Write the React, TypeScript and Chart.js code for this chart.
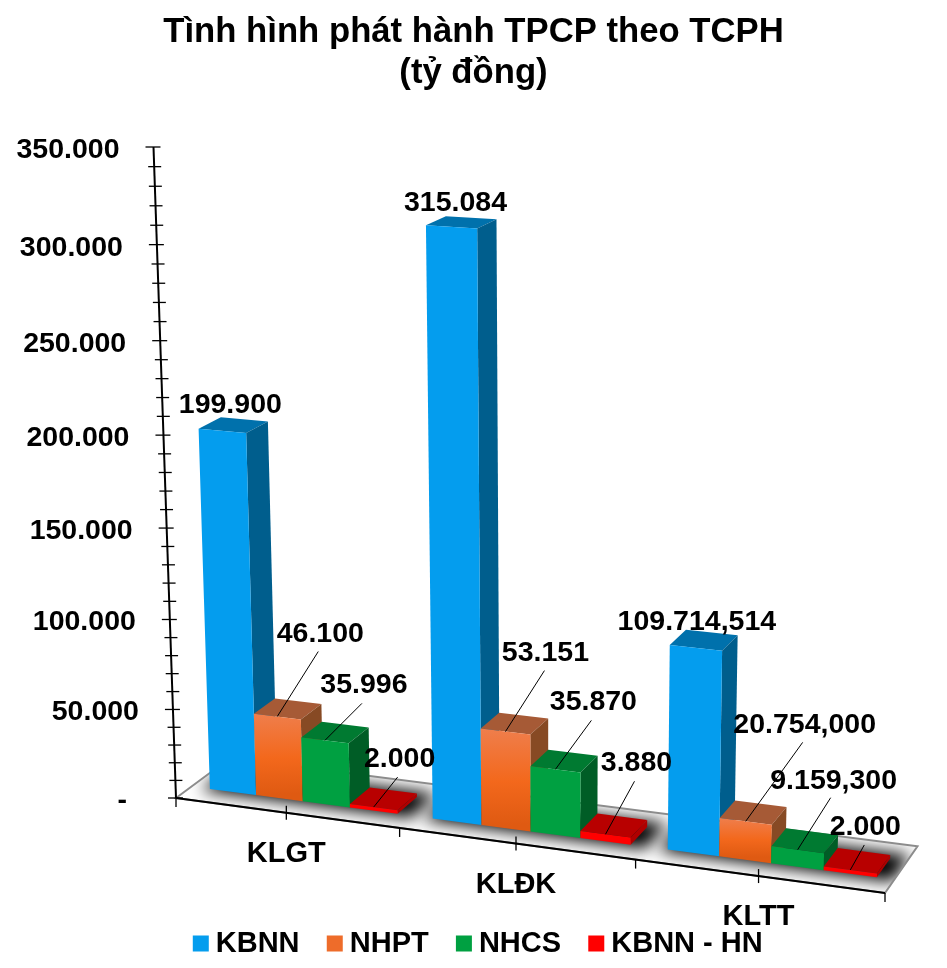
import React, { useEffect, useRef } from "react";
import { Chart, registerables } from "chart.js";

Chart.register(...registerables);

const TITLE = ["Tình hình phát hành TPCP theo TCPH", "(tỷ đồng)"];
const CATEGORIES = ["KLGT", "KLĐK", "KLTT"];
const KBNN = [199900, 315084, 109714.514];
const NHPT = [46100, 53151, 20754];
const NHCS = [35996, 35870, 9159.3];
const KBNN_HN = [2000, 3880, 2000];
const KBNN_TEXT = ["199.900", "315.084", "109.714,514"];
const NHPT_TEXT = ["46.100", "53.151", "20.754,000"];
const NHCS_TEXT = ["35.996", "35.870", "9.159,300"];
const KBNN_HN_TEXT = ["2.000", "3.880", "2.000"];

const FONT = '"Liberation Sans", Arial, sans-serif';

// Perspective camera: maps (u along categories, v up the value axis, w into the depth) to the page.
const O = [176, 798];
const U = [885, 893];
const V = [153.5, 147];
const W = [230, 758];
const E = -0.0786;
const F = -0.0555;
const G = 0.035;
const W_FRONT = 0.28;
const W_BACK = 0.68;
const BAR_U_SHIFT = 0.0027;

function project(u: number, v: number, w: number): [number, number] {
  const d = 1 + E * u + F * v + G * w;
  const x = O[0] + (U[0] * (1 + E) - O[0]) * u + (V[0] * (1 + F) - O[0]) * v + (W[0] * (1 + G) - O[0]) * w;
  const y = O[1] + (U[1] * (1 + E) - O[1]) * u + (V[1] * (1 + F) - O[1]) * v + (W[1] * (1 + G) - O[1]) * w;
  return [x / d, y / d];
}

function poly(ctx: CanvasRenderingContext2D, pts: [number, number][], fill?: any) {
  ctx.beginPath();
  pts.forEach((p, i) => (i ? ctx.lineTo(p[0], p[1]) : ctx.moveTo(p[0], p[1])));
  ctx.closePath();
  if (fill) {
    ctx.fillStyle = fill;
    ctx.fill();
  }
}

const FACE_COLORS = [
  { front: "#049DEE", side: "#005E8D", top: "#0071AC" },
  { front: "#F26B21", side: "#874A24", top: "#A65A36" },
  { front: "#00A041", side: "#005D26", top: "#007A31" },
  { front: "#FF0000", side: "#B00000", top: "#B80000" },
];
const LEGEND_COLORS = ["#049DEE", "#EE6C2A", "#00A041", "#FF0000"];

// Label centre and leader-line end, relative to the projected bar top.
const LABEL_SHIFT = [
  [[8, -28], [4, -26], [1, -28]],
  [[43, -84], [40, -80], [59, -98]],
  [[39, -57], [38, -69], [36, -71]],
  [[26, -50], [31, -73], [15, -45]],
];
const LEADER_SHIFT = [
  [null, null, null],
  [[41, -65], [39, -61], [57, -79]],
  [[37, -37], [36, -49], [33, -52]],
  [[24, -30], [29, -53], [14, -25]],
];
const VALUE_TEXT = [KBNN_TEXT, NHPT_TEXT, NHCS_TEXT, KBNN_HN_TEXT];

const perspectivePlugin = {
  id: "perspective",
  afterLayout(chart: any) {
    chart.legend.left += 8;
    chart.legend.right += 8;
  },
  beforeDatasetsDraw(chart: any) {
    const { ctx, chartArea: ca } = chart;
    const yScale = chart.scales.y;
    const toU = (x: number) => (x - ca.left) / ca.width + BAR_U_SHIFT;
    const toV = (y: number) => (ca.bottom - y) / ca.height;

    // floor
    const floor = [project(0, 0, 0), project(1, 0, 0), project(1, 0, 1), project(0, 0, 1)];
    ctx.save();
    poly(ctx, floor, "#FFFFFF");
    ctx.clip();
    const nDatasets = chart.data.datasets.length;
    ctx.filter = "blur(8px)";
    chart.data.labels.forEach((_: string, j: number) => {
      const first = chart.getDatasetMeta(0).data[j];
      const last = chart.getDatasetMeta(nDatasets - 1).data[j];
      const u0 = toU(first.x - first.width / 2) - 0.01;
      const u1 = toU(last.x + last.width / 2) + 0.022;
      poly(
        ctx,
        [project(u0, 0, W_FRONT - 0.05), project(u1, 0, W_FRONT - 0.05), project(u1, 0, W_BACK + 0.12), project(u0, 0, W_BACK + 0.12)],
        "#000000"
      );
    });
    ctx.filter = "none";
    ctx.restore();
    ctx.save();
    poly(ctx, floor);
    ctx.strokeStyle = "#8C8C8C";
    ctx.lineWidth = 2;
    ctx.stroke();
    ctx.restore();

    // axes
    ctx.save();
    ctx.strokeStyle = "#000000";
    ctx.lineWidth = 2;
    const line = (a: [number, number], b: [number, number]) => {
      ctx.beginPath();
      ctx.moveTo(a[0], a[1]);
      ctx.lineTo(b[0], b[1]);
      ctx.stroke();
    };
    line(project(0, 0, 0), project(0, 1, 0));
    line(project(0, 0, 0), project(1, 0, 0));
    ctx.lineWidth = 1.3;
    yScale.ticks.forEach((t: any) => {
      const p = project(0, toV(yScale.getPixelForValue(t.value)), 0);
      const major = t.value % 50000 === 0;
      line([p[0] - (major ? 8 : 6), p[1]], [p[0] + 7, p[1]]);
    });
    for (let k = 0; k <= 2 * chart.data.labels.length; k++) {
      const p = project(k / (2 * chart.data.labels.length), 0, 0);
      if (k % 2) line([p[0], p[1] - 7], [p[0], p[1] + 7]);
      else line(p, [p[0], p[1] + 9]);
    }
    ctx.restore();

    // bars, left to right
    chart.data.labels.forEach((_: string, j: number) => {
      chart.data.datasets.forEach((_d: any, i: number) => {
        const el = chart.getDatasetMeta(i).data[j];
        const u0 = toU(el.x - el.width / 2);
        const u1 = toU(el.x + el.width / 2);
        const v = toV(el.y);
        const c = FACE_COLORS[i];
        poly(ctx, [project(u0, v, W_FRONT), project(u1, v, W_FRONT), project(u1, v, W_BACK), project(u0, v, W_BACK)], c.top);
        poly(ctx, [project(u1, 0, W_FRONT), project(u1, v, W_FRONT), project(u1, v, W_BACK), project(u1, 0, W_BACK)], c.side);
        let front: any = c.front;
        if (i === 1) {
          const a = project(u0, v, W_FRONT);
          const b = project(u0, 0, W_FRONT);
          front = ctx.createLinearGradient(a[0], a[1], b[0], b[1]);
          front.addColorStop(0, "#EF7E4C");
          front.addColorStop(0.55, "#F3681C");
          front.addColorStop(1, "#DF5A12");
        }
        poly(ctx, [project(u0, 0, W_FRONT), project(u1, 0, W_FRONT), project(u1, v, W_FRONT), project(u0, v, W_FRONT)], front);
      });
    });
    return false;
  },
  afterDraw(chart: any) {
    const { ctx, chartArea: ca } = chart;
    const yScale = chart.scales.y;
    const xScale = chart.scales.x;
    ctx.save();
    ctx.fillStyle = "#000000";
    ctx.font = `bold 28.5px ${FONT}`;
    ctx.textBaseline = "middle";

    // value axis labels follow the leaning axis
    ctx.textAlign = "right";
    yScale.ticks.forEach((t: any) => {
      if (!t.label) return;
      const p = project(0, (ca.bottom - yScale.getPixelForValue(t.value)) / ca.height, 0);
      ctx.fillText(t.label, p[0] - (t.value === 0 ? 49 : 34), p[1] + 3);
    });

    // category labels follow the floor edge
    ctx.textAlign = "center";
    ctx.font = `bold 29px ${FONT}`;
    xScale.ticks.forEach((t: any, j: number) => {
      const p = project((xScale.getPixelForTick(j) - ca.left) / ca.width, 0, 0);
      ctx.fillText(t.label, p[0], p[1] + 41);
    });
    ctx.font = `bold 28.5px ${FONT}`;

    // value labels and leaders
    chart.data.datasets.forEach((_d: any, i: number) => {
      chart.getDatasetMeta(i).data.forEach((el: any, j: number) => {
        const p = project((el.x - ca.left) / ca.width + BAR_U_SHIFT, (ca.bottom - el.y) / ca.height, W_FRONT);
        const leader = LEADER_SHIFT[i][j];
        if (leader) {
          ctx.strokeStyle = "#000000";
          ctx.lineWidth = 1;
          ctx.beginPath();
          ctx.moveTo(p[0], p[1]);
          ctx.lineTo(p[0] + leader[0], p[1] + leader[1]);
          ctx.stroke();
        }
        const s = LABEL_SHIFT[i][j];
        ctx.fillText(VALUE_TEXT[i][j], p[0] + s[0], p[1] + s[1] + 2);
      });
    });
    ctx.restore();
  },
};

export default function App() {
  const ref = useRef<HTMLCanvasElement>(null);
  useEffect(() => {
    const series = [KBNN, NHPT, NHCS, KBNN_HN];
    const names = ["KBNN", "NHPT", "NHCS", "KBNN - HN"];
    const chart = new Chart(ref.current as HTMLCanvasElement, {
      type: "bar",
      data: {
        labels: CATEGORIES,
        datasets: series.map((data, i) => ({
          label: names[i],
          data,
          backgroundColor: LEGEND_COLORS[i],
          categoryPercentage: 0.846,
          barPercentage: 1,
        })),
      },
      options: {
        responsive: false,
        animation: false,
        layout: { padding: { left: 0, right: 0, top: 0, bottom: 0 } },
        scales: {
          x: { display: false },
          y: {
            display: false,
            min: 0,
            max: 350000,
            ticks: {
              stepSize: 10000,
              autoSkip: false,
              callback: (v: any) =>
                v === 0 ? "-" : v % 50000 === 0 ? Number(v).toLocaleString("de-DE") : "",
            },
          },
        },
        plugins: {
          title: {
            display: true,
            text: TITLE,
            color: "#000000",
            font: { family: FONT, size: 34.7, weight: "bold", lineHeight: 1.18 },
            padding: { top: 12, bottom: 10 },
          },
          legend: {
            position: "bottom",
            labels: {
              color: "#000000",
              font: { family: FONT, size: 29, weight: "bold" },
              boxWidth: 1,
              boxHeight: 1,
              padding: 34.7,
              generateLabels: (c: any) =>
                Chart.defaults.plugins.legend.labels.generateLabels(c).map((item: any, i: number) => ({
                  ...item,
                  lineWidth: 15,
                  strokeStyle: LEGEND_COLORS[i],
                  fillStyle: LEGEND_COLORS[i],
                })),
            },
          },
          tooltip: { enabled: false },
        },
      } as any,
      plugins: [perspectivePlugin],
    });
    return () => chart.destroy();
  }, []);
  return (
    <div style={{ position: "absolute", left: 0, top: 0 }}>
      <canvas ref={ref} width={947} height={968} style={{ display: "block" }} />
    </div>
  );
}
